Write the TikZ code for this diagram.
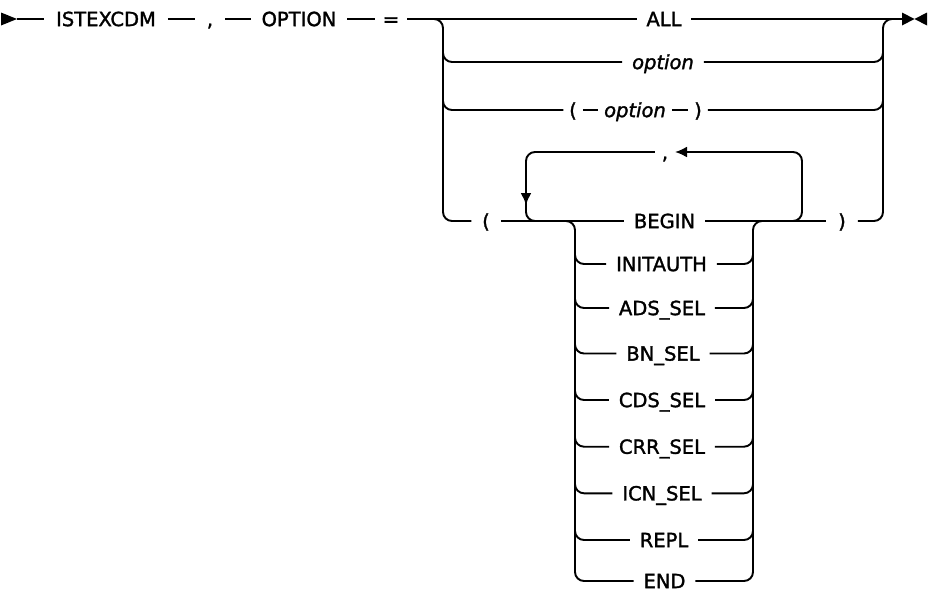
\documentclass[tikz,border=0pt]{standalone}
\usepackage{fontspec}
\setmainfont{DejaVu Sans}[FakeBold=1.6]
\usetikzlibrary{arrows.meta}
\begin{document}
\begin{tikzpicture}[x=1pt,y=-1pt,line width=1.9pt,
  rc/.style={rounded corners=9pt},
  lbl/.style={inner xsep=9pt,inner ysep=0pt,text height=14.2pt,text depth=0pt,font=\fontsize{19.5}{22}\selectfont},
  itl/.style={lbl,font=\fontsize{19.5}{22}\selectfont\itshape},
  par/.style={lbl,inner xsep=5pt},
  tipL/.style={-{Latex[length=12pt,width=11pt]}}]
\useasboundingbox (0,0) rectangle (931,592);
% start symbol
\fill (1,12.5) -- (17,19) -- (1,25.5) -- cycle;
\coordinate (s0) at (17,19);
\node[lbl,inner xsep=11pt] (istex) at (106,19) {ISTEXCDM};
\node[lbl,inner xsep=11pt] (comma) at (210,19) {,};
\node[lbl,inner xsep=10pt] (optkw) at (299,19) {OPTION};
\node[lbl,inner xsep=7pt] (eq) at (391,19) {=};
\draw (s0) -- (istex.west);
\draw (istex.east) -- (comma.west);
\draw (comma.east) -- (optkw.west);
\draw (optkw.east) -- (eq.west);
% ALL row
\node[lbl] (all) at (664,19) {ALL};
\coordinate (fin) at (903,19);
\draw (eq.east) -- (all.west);
\draw (all.east) -- (fin);
% end symbol
\fill (902,12.5) -- (914.5,19) -- (902,25.5) -- cycle;
\fill (927,12.5) -- (914.5,19) -- (927,25.5) -- cycle;
% rails
\coordinate (lt) at (443,19);
\coordinate (lb) at (443,221);
\coordinate (rt) at (883,19);
\coordinate (rb) at (883,221);
% option row
\node[itl] (opt1) at (663,62) {option};
\draw[rc] (443,48) -- (443,62) -- (opt1.west);
\draw[rc] (opt1.east) -- (883,62) -- (883,48);
% ( option ) row
\node[par] (pa) at (573,110) {(};
\node[itl,inner xsep=5pt] (opt2) at (635,110) {option};
\node[par] (pb) at (698,110) {)};
\draw[rc] (443,96) -- (443,110) -- (pa.west);
\draw (pa.east) -- (opt2.west);
\draw (opt2.east) -- (pb.west);
\draw[rc] (pb.east) -- (883,110) -- (883,96);
% BEGIN row with repeat
\node[par,inner xsep=10pt] (po1) at (486,221) {(};
\node[lbl] (begin) at (664.5,221) {BEGIN};
\node[par,inner xsep=11pt] (pc1) at (842,221) {)};
\draw[rc] (433,19) -- (lt) -- (lb) -- (po1.west);
\draw (po1.east) -- (begin.west);
\draw (begin.east) -- (pc1.west);
\draw[rc] (pc1.east) -- (rb) -- (rt) -- (fin);
% repeat loop
\node[lbl,inner xsep=6pt] (lcomma) at (665,152) {,};
\draw[rc,tipL] (786,221) -- (802,221) -- (802,152) -- (lcomma.east);
\draw[rc,tipL] (lcomma.west) -- (526,152) -- (526,205);
\draw[rc] (526,196) -- (526,221) -- (546,221);
% stack rails
\coordinate (sl) at (575,221);
\coordinate (sr) at (753,221);
\node[lbl] (k8) at (664.5,581) {END};
\draw[rc] (561,221) -- (sl) -- (575,581) -- (k8.west);
\draw[rc] (k8.east) -- (753,581) -- (sr) -- (767,221);
\foreach \nm/\yy/\xx/\tx in {k1/264/661.5/INITAUTH,k2/308/662/ADS\_SEL,k3/353.5/663/BN\_SEL,k4/400/662/CDS\_SEL,k5/446.7/662/CRR\_SEL,k6/493.3/662/ICN\_SEL,k7/540/664/REPL}{
  \node[lbl] (\nm) at (\xx,\yy) {\tx};
  \draw[rc] (575,\yy-12) -- (575,\yy) -- (\nm.west);
  \draw[rc] (\nm.east) -- (753,\yy) -- (753,\yy-12);
}
\end{tikzpicture}
\end{document}
